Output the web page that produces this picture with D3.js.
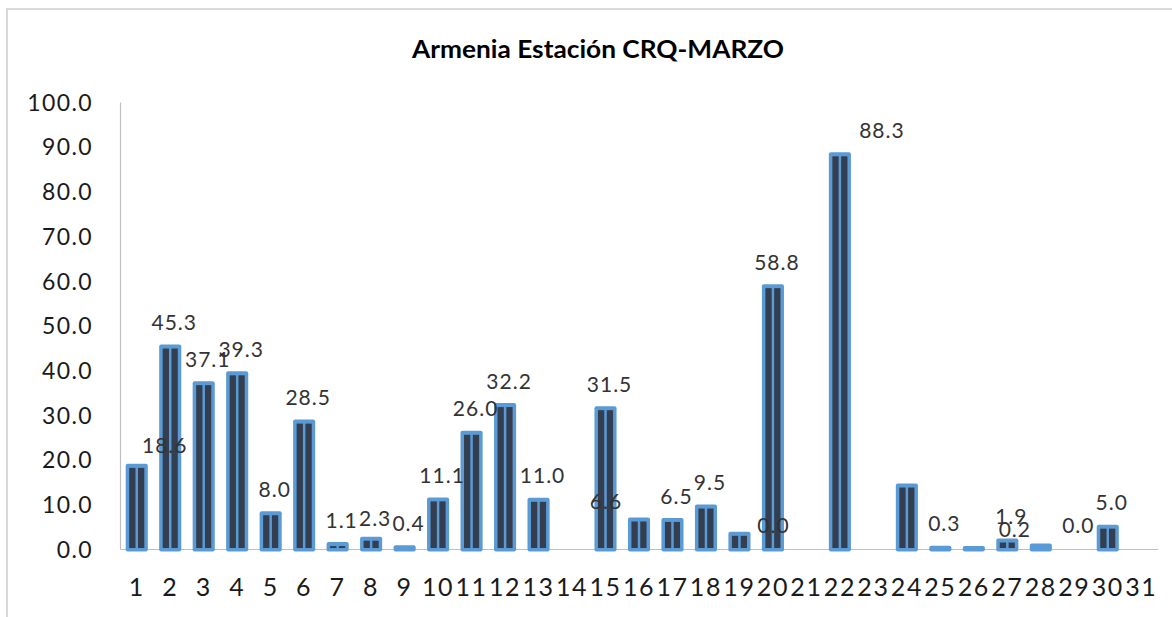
<!DOCTYPE html>
<html>
<head>
<meta charset="utf-8">
<script src="https://cdn.jsdelivr.net/npm/d3@7"></script>
<style>
  html, body { margin: 0; padding: 0; background: #fff; }
  svg { display: block; }
</style>
</head>
<body>
<svg id="chart" width="1172" height="617"></svg>
<script>
// ---------- DATA ----------
const title = "Armenia Estación CRQ-MARZO";
const days = ["1","2","3","4","5","6","7","8","9","10","11","12","13","14","15","16",
              "17","18","19","20","21","22","23","24","25","26","27","28","29","30","31"];
const rainfall = [18.6,45.3,37.1,39.3,8.0,28.5,1.1,2.3,0.4,11.1,26.0,32.2,11.0,0,31.5,6.6,
                  6.5,9.5,3.4,58.8,0,88.3,0,14.2,0.3,0.2,1.9,0.8,0,5.0,0];
const yTicks = [0,10,20,30,40,50,60,70,80,90,100];
// data labels as they appear on the chart (day they belong to, text)
const labelDays  = ["1","2","3","4","5","6","7","8","9","10","11","12","13","15","16","17","18","21","20","22","25","27","26","29","30"];
const labelTexts = ["18.6","45.3","37.1","39.3","8.0","28.5","1.1","2.3","0.4","11.1","26.0","32.2","11.0","31.5","6.6","6.5","9.5","0.0","58.8","88.3","0.3","1.9","0.2","0.0","5.0"];

// ---------- LAYOUT ----------
const W = 1172, H = 617;
const plot = { left: 120, right: 1158, top: 102, bottom: 549 };
const blue = "#5b9bd5", dark = "#333f50", axisCol = "#bfbfbf";
// manual nudges of data labels (px), default placement is above the bar
const labelNudge = {
  "0": [24, 4], "7": [0, 4], "14": [-37, 6], "17": [-37, 0], "19": [38, 0], "22": [37, 5]
};

const svg = d3.select("#chart");

// chart border
svg.append("rect")
  .attr("x", 7).attr("y", 9).attr("width", 1200).attr("height", 700)
  .attr("fill", "none").attr("stroke", "#d9d9d9").attr("stroke-width", 2);

// title
svg.append("text")
  .attr("x", 598).attr("y", 58)
  .attr("text-anchor", "middle")
  .attr("font-family", "Lato, 'Open Sans', sans-serif")
  .attr("font-weight", "bold")
  .attr("font-size", 25)
  .attr("fill", "#000")
  .attr("textLength", 372).attr("lengthAdjust", "spacingAndGlyphs")
  .text(title);

const x = d3.scaleBand().domain(days)
  .range([plot.left, plot.right])
  .paddingInner(0.34).paddingOuter(0.17);
const y = d3.scaleLinear().domain([0, 100]).range([plot.bottom, plot.top]);

// y axis
const yAxis = svg.append("g")
  .attr("transform", `translate(${plot.left},0)`)
  .call(d3.axisLeft(y).tickValues(yTicks).tickFormat(d3.format(".1f")).tickSize(0).tickPadding(27));
yAxis.select(".domain").attr("stroke", axisCol).attr("stroke-width", 1.2);
yAxis.selectAll("text")
  .attr("font-family", "Lato, 'Open Sans', sans-serif")
  .attr("font-size", 23)
  .attr("letter-spacing", 1.4)
  .attr("fill", "#1a1a1a")
  .attr("dy", "0.36em");

// x axis
const xAxis = svg.append("g")
  .attr("transform", `translate(0,${plot.bottom})`)
  .call(d3.axisBottom(x).tickSize(0).tickPadding(29).tickSizeOuter(0));
xAxis.select(".domain").attr("stroke", axisCol).attr("stroke-width", 1.2);
xAxis.selectAll("text")
  .attr("font-family", "Lato, 'Open Sans', sans-serif")
  .attr("font-size", 25)
  .attr("letter-spacing", 1.6)
  .attr("fill", "#1a1a1a")
  .attr("dy", "0.71em");

// bars
const bw = x.bandwidth();
const inset = 3.5, gap = 2.5;
const dw = (bw - 2 * inset - gap) / 2;
const barData = days.map((d, i) => ({ day: d, v: rainfall[i] })).filter(d => d.v > 0);

const bars = svg.append("g").selectAll("g").data(barData).join("g");
bars.append("rect")
  .attr("x", d => x(d.day))
  .attr("y", d => y(d.v) - 2)
  .attr("width", bw)
  .attr("height", d => y(0) - y(d.v) + 4.5)
  .attr("rx", 2).attr("ry", 2)
  .attr("fill", blue);
[0, 1].forEach(k => {
  bars.filter(d => (y(0) - 1) - (y(d.v) + 2) > 1)
    .append("rect")
    .attr("x", d => x(d.day) + inset + k * (dw + gap))
    .attr("y", d => y(d.v) + 2)
    .attr("width", dw)
    .attr("height", d => (y(0) - 1) - (y(d.v) + 2))
    .attr("fill", dark);
});

// data labels
svg.append("g").selectAll("text")
  .data(labelTexts.map((t, i) => ({ t, day: labelDays[i], i })))
  .join("text")
  .attr("x", d => x(d.day) + bw / 2 + 4 + (labelNudge[d.i] ? labelNudge[d.i][0] : 0))
  .attr("y", d => y(+d.t) - 24 + (labelNudge[d.i] ? labelNudge[d.i][1] : 0))
  .attr("dy", "0.36em")
  .attr("text-anchor", "middle")
  .attr("font-family", "Lato, 'Open Sans', sans-serif")
  .attr("font-size", 21)
  .attr("letter-spacing", 1)
  .attr("fill", "#333")
  .text(d => d.t);
</script>
</body>
</html>
